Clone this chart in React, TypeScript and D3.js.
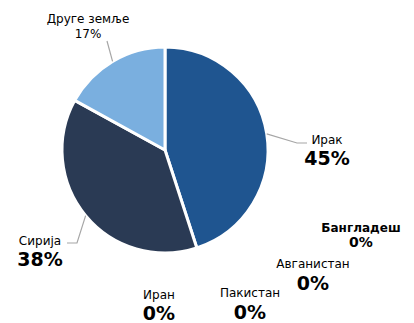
import React from "react";
import * as d3 from "d3";

const categories = ["Ирак", "Сирија", "Друге земље", "Иран", "Пакистан", "Авганистан", "Бангладеш"];
const values = [45, 38, 17, 0, 0, 0, 0];
const percentLabels = ["45%", "38%", "17%", "0%", "0%", "0%", "0%"];
const colors = ["#1F5590", "#2A3A54", "#7AAFDF", "#999", "#999", "#999", "#999"];

// label layout (name baseline, pct baseline, center x, styles)
const labelLayout = [
  { x: 327, ny: 144, py: 165, nw: "normal", pw: "bold", ns: 12, ps: 19 },
  { x: 40, ny: 245, py: 266, nw: "normal", pw: "bold", ns: 12, ps: 19 },
  { x: 88, ny: 23, py: 38, nw: "normal", pw: "normal", ns: 12, ps: 12 },
  { x: 159, ny: 299, py: 320, nw: "normal", pw: "bold", ns: 12, ps: 19 },
  { x: 250, ny: 297, py: 319, nw: "normal", pw: "bold", ns: 12, ps: 19 },
  { x: 313, ny: 268, py: 290, nw: "normal", pw: "bold", ns: 12, ps: 19 },
  { x: 361, ny: 232, py: 247, nw: "bold", pw: "bold", ns: 12, ps: 14 },
];

// leader lines: [points]
const leaders: [number, number][][] = [
  [[0, 0], [297, 143], [307, 143]],
  [[0, 0], [77, 243], [67, 243]],
  [[0, 0], [107, 41]],
];

export default function App() {
  const W = 414, H = 323;
  const cx = 165, cy = 150, r = 103;
  const pie = d3.pie<number>().sort(null).value((d) => d)(values);
  const arc = d3.arc<d3.PieArcDatum<number>>().innerRadius(0).outerRadius(r);
  const outer = d3.arc<d3.PieArcDatum<number>>().innerRadius(r).outerRadius(r);
  const font = "'DejaVu Sans', Verdana, sans-serif";
  return (
    <svg width={W} height={H} style={{ position: "absolute", left: 0, top: 0 }} fontFamily={font}>
      <g transform={`translate(${cx},${cy})`}>
        {pie.map((p, i) =>
          p.value > 0 ? (
            <path key={i} d={arc(p) || ""} fill={colors[i]} stroke="#fff" strokeWidth={3} strokeLinejoin="round" />
          ) : null
        )}
      </g>
      {leaders.map((pts, i) => {
        const c = outer.centroid(pie[i]);
        const all = pts.map((pt, j) => (j === 0 ? [cx + c[0], cy + c[1]] : pt));
        return (
          <polyline key={i} points={all.map((q) => q.join(",")).join(" ")} fill="none" stroke="#A6A6A6" strokeWidth={1.2} />
        );
      })}
      {categories.map((c, i) => {
        const L = labelLayout[i];
        return (
          <g key={i} textAnchor="middle" fill="#000">
            <text x={L.x} y={L.ny} fontSize={L.ns} fontWeight={L.nw}>{c}</text>
            <text x={L.x} y={L.py} fontSize={L.ps} fontWeight={L.pw}>{percentLabels[i]}</text>
          </g>
        );
      })}
    </svg>
  );
}
